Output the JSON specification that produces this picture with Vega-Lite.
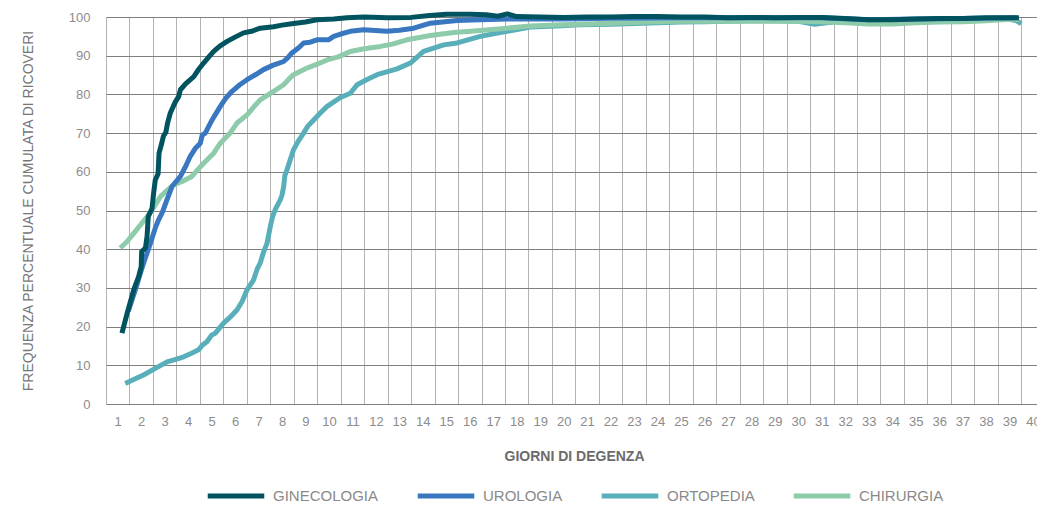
{
  "$schema": "https://vega.github.io/schema/vega-lite/v6.json",
  "autosize": {"type": "none"},
  "width": 931,
  "height": 387,
  "padding": {"left": 106, "top": 17, "right": 0, "bottom": 101},
  "background": "white",
  "config": {
    "view": {"stroke": null},
    "font": "Liberation Sans"
  },
  "datasets": {
    "curves": [
      {"s": "ORTOPEDIA", "x": 1.32, "y": 5.3}, {"s": "ORTOPEDIA", "x": 1.7, "y": 6.4}, {"s": "ORTOPEDIA", "x": 2.1, "y": 7.5}, {"s": "ORTOPEDIA", "x": 2.6, "y": 9.2}, {"s": "ORTOPEDIA", "x": 3.1, "y": 10.9}, {"s": "ORTOPEDIA", "x": 3.4, "y": 11.4}, {"s": "ORTOPEDIA", "x": 3.81, "y": 12.2}, {"s": "ORTOPEDIA", "x": 4.1, "y": 13}, {"s": "ORTOPEDIA", "x": 4.45, "y": 14}, {"s": "ORTOPEDIA", "x": 4.6, "y": 15.2}, {"s": "ORTOPEDIA", "x": 4.8, "y": 16.1}, {"s": "ORTOPEDIA", "x": 5.0, "y": 17.8}, {"s": "ORTOPEDIA", "x": 5.16, "y": 18.3}, {"s": "ORTOPEDIA", "x": 5.51, "y": 20.9}, {"s": "ORTOPEDIA", "x": 5.8, "y": 22.5}, {"s": "ORTOPEDIA", "x": 6.08, "y": 24.3}, {"s": "ORTOPEDIA", "x": 6.3, "y": 26.5}, {"s": "ORTOPEDIA", "x": 6.51, "y": 29.5}, {"s": "ORTOPEDIA", "x": 6.79, "y": 32.1}, {"s": "ORTOPEDIA", "x": 6.95, "y": 35}, {"s": "ORTOPEDIA", "x": 7.07, "y": 36.4}, {"s": "ORTOPEDIA", "x": 7.2, "y": 39}, {"s": "ORTOPEDIA", "x": 7.36, "y": 41.5}, {"s": "ORTOPEDIA", "x": 7.5, "y": 45.8}, {"s": "ORTOPEDIA", "x": 7.6, "y": 48.5}, {"s": "ORTOPEDIA", "x": 7.71, "y": 50.2}, {"s": "ORTOPEDIA", "x": 7.93, "y": 52.8}, {"s": "ORTOPEDIA", "x": 8.0, "y": 54}, {"s": "ORTOPEDIA", "x": 8.07, "y": 56.2}, {"s": "ORTOPEDIA", "x": 8.12, "y": 59}, {"s": "ORTOPEDIA", "x": 8.21, "y": 60.5}, {"s": "ORTOPEDIA", "x": 8.49, "y": 65.7}, {"s": "ORTOPEDIA", "x": 8.7, "y": 68}, {"s": "ORTOPEDIA", "x": 8.92, "y": 70}, {"s": "ORTOPEDIA", "x": 9.1, "y": 71.8}, {"s": "ORTOPEDIA", "x": 9.35, "y": 73.4}, {"s": "ORTOPEDIA", "x": 9.6, "y": 75}, {"s": "ORTOPEDIA", "x": 9.92, "y": 76.9}, {"s": "ORTOPEDIA", "x": 10.49, "y": 79.2}, {"s": "ORTOPEDIA", "x": 10.91, "y": 80.3}, {"s": "ORTOPEDIA", "x": 11.2, "y": 82.5}, {"s": "ORTOPEDIA", "x": 11.6, "y": 83.8}, {"s": "ORTOPEDIA", "x": 12.05, "y": 85.1}, {"s": "ORTOPEDIA", "x": 12.9, "y": 86.6}, {"s": "ORTOPEDIA", "x": 13.47, "y": 88.1}, {"s": "ORTOPEDIA", "x": 14.03, "y": 91.1}, {"s": "ORTOPEDIA", "x": 14.89, "y": 92.8}, {"s": "ORTOPEDIA", "x": 15.46, "y": 93.3}, {"s": "ORTOPEDIA", "x": 16.45, "y": 95}, {"s": "ORTOPEDIA", "x": 17.59, "y": 96.3}, {"s": "ORTOPEDIA", "x": 18.58, "y": 97.4}, {"s": "ORTOPEDIA", "x": 19.72, "y": 97.7}, {"s": "ORTOPEDIA", "x": 20.7, "y": 98}, {"s": "ORTOPEDIA", "x": 22, "y": 98.1}, {"s": "ORTOPEDIA", "x": 23, "y": 98.3}, {"s": "ORTOPEDIA", "x": 24, "y": 98.5}, {"s": "ORTOPEDIA", "x": 25, "y": 98.7}, {"s": "ORTOPEDIA", "x": 26, "y": 98.8}, {"s": "ORTOPEDIA", "x": 27, "y": 98.9}, {"s": "ORTOPEDIA", "x": 28, "y": 99}, {"s": "ORTOPEDIA", "x": 29, "y": 99}, {"s": "ORTOPEDIA", "x": 30, "y": 98.9}, {"s": "ORTOPEDIA", "x": 30.7, "y": 98.1}, {"s": "ORTOPEDIA", "x": 31.2, "y": 98.5}, {"s": "ORTOPEDIA", "x": 32, "y": 99}, {"s": "ORTOPEDIA", "x": 33, "y": 99}, {"s": "ORTOPEDIA", "x": 34, "y": 99}, {"s": "ORTOPEDIA", "x": 35, "y": 99}, {"s": "ORTOPEDIA", "x": 36, "y": 99}, {"s": "ORTOPEDIA", "x": 37, "y": 99.1}, {"s": "ORTOPEDIA", "x": 38, "y": 99.3}, {"s": "ORTOPEDIA", "x": 39, "y": 99.4}, {"s": "ORTOPEDIA", "x": 39.3, "y": 99}, {"s": "ORTOPEDIA", "x": 39.5, "y": 98.3},

      {"s": "CHIRURGIA", "x": 1.11, "y": 40.3}, {"s": "CHIRURGIA", "x": 1.4, "y": 42}, {"s": "CHIRURGIA", "x": 1.68, "y": 44.1}, {"s": "CHIRURGIA", "x": 2.0, "y": 46.5}, {"s": "CHIRURGIA", "x": 2.25, "y": 48.4}, {"s": "CHIRURGIA", "x": 2.5, "y": 50.5}, {"s": "CHIRURGIA", "x": 2.82, "y": 53.6}, {"s": "CHIRURGIA", "x": 3.1, "y": 55.2}, {"s": "CHIRURGIA", "x": 3.38, "y": 56.6}, {"s": "CHIRURGIA", "x": 3.74, "y": 57.5}, {"s": "CHIRURGIA", "x": 4.16, "y": 58.8}, {"s": "CHIRURGIA", "x": 4.4, "y": 60.5}, {"s": "CHIRURGIA", "x": 4.66, "y": 62.2}, {"s": "CHIRURGIA", "x": 5.09, "y": 64.8}, {"s": "CHIRURGIA", "x": 5.37, "y": 67.4}, {"s": "CHIRURGIA", "x": 5.79, "y": 70}, {"s": "CHIRURGIA", "x": 6.08, "y": 72.6}, {"s": "CHIRURGIA", "x": 6.51, "y": 74.7}, {"s": "CHIRURGIA", "x": 6.8, "y": 76.8}, {"s": "CHIRURGIA", "x": 7.07, "y": 78.6}, {"s": "CHIRURGIA", "x": 7.64, "y": 80.8}, {"s": "CHIRURGIA", "x": 8.07, "y": 82.5}, {"s": "CHIRURGIA", "x": 8.3, "y": 84}, {"s": "CHIRURGIA", "x": 8.49, "y": 85.1}, {"s": "CHIRURGIA", "x": 9.06, "y": 86.8}, {"s": "CHIRURGIA", "x": 9.5, "y": 87.8}, {"s": "CHIRURGIA", "x": 9.92, "y": 88.9}, {"s": "CHIRURGIA", "x": 10.4, "y": 89.7}, {"s": "CHIRURGIA", "x": 10.91, "y": 91.1}, {"s": "CHIRURGIA", "x": 11.5, "y": 91.8}, {"s": "CHIRURGIA", "x": 12.19, "y": 92.4}, {"s": "CHIRURGIA", "x": 12.7, "y": 93}, {"s": "CHIRURGIA", "x": 13.32, "y": 94.1}, {"s": "CHIRURGIA", "x": 14.32, "y": 95.2}, {"s": "CHIRURGIA", "x": 15.32, "y": 96}, {"s": "CHIRURGIA", "x": 16.45, "y": 96.5}, {"s": "CHIRURGIA", "x": 17.59, "y": 97.1}, {"s": "CHIRURGIA", "x": 18.58, "y": 97.7}, {"s": "CHIRURGIA", "x": 20, "y": 98}, {"s": "CHIRURGIA", "x": 21, "y": 98.2}, {"s": "CHIRURGIA", "x": 22, "y": 98.4}, {"s": "CHIRURGIA", "x": 23, "y": 98.6}, {"s": "CHIRURGIA", "x": 24, "y": 98.8}, {"s": "CHIRURGIA", "x": 25, "y": 98.9}, {"s": "CHIRURGIA", "x": 26, "y": 98.9}, {"s": "CHIRURGIA", "x": 27, "y": 98.9}, {"s": "CHIRURGIA", "x": 28, "y": 98.9}, {"s": "CHIRURGIA", "x": 29, "y": 98.9}, {"s": "CHIRURGIA", "x": 30, "y": 98.9}, {"s": "CHIRURGIA", "x": 31, "y": 98.8}, {"s": "CHIRURGIA", "x": 32, "y": 98.5}, {"s": "CHIRURGIA", "x": 33, "y": 98.2}, {"s": "CHIRURGIA", "x": 34, "y": 98.2}, {"s": "CHIRURGIA", "x": 35, "y": 98.5}, {"s": "CHIRURGIA", "x": 36, "y": 98.7}, {"s": "CHIRURGIA", "x": 37, "y": 98.8}, {"s": "CHIRURGIA", "x": 38, "y": 99}, {"s": "CHIRURGIA", "x": 39, "y": 99.4}, {"s": "CHIRURGIA", "x": 39.4, "y": 99.3},

      {"s": "UROLOGIA", "x": 1.45, "y": 24}, {"s": "UROLOGIA", "x": 1.75, "y": 29.5}, {"s": "UROLOGIA", "x": 2.1, "y": 36.4}, {"s": "UROLOGIA", "x": 2.39, "y": 41.5}, {"s": "UROLOGIA", "x": 2.6, "y": 45.5}, {"s": "UROLOGIA", "x": 2.74, "y": 47.6}, {"s": "UROLOGIA", "x": 2.9, "y": 49.5}, {"s": "UROLOGIA", "x": 3.1, "y": 52.8}, {"s": "UROLOGIA", "x": 3.31, "y": 56.2}, {"s": "UROLOGIA", "x": 3.67, "y": 58.8}, {"s": "UROLOGIA", "x": 3.9, "y": 61.5}, {"s": "UROLOGIA", "x": 4.09, "y": 64}, {"s": "UROLOGIA", "x": 4.3, "y": 66}, {"s": "UROLOGIA", "x": 4.52, "y": 67.4}, {"s": "UROLOGIA", "x": 4.6, "y": 69.5}, {"s": "UROLOGIA", "x": 4.73, "y": 70}, {"s": "UROLOGIA", "x": 5.02, "y": 73.4}, {"s": "UROLOGIA", "x": 5.37, "y": 76.9}, {"s": "UROLOGIA", "x": 5.6, "y": 79}, {"s": "UROLOGIA", "x": 5.87, "y": 80.8}, {"s": "UROLOGIA", "x": 6.2, "y": 82.5}, {"s": "UROLOGIA", "x": 6.51, "y": 83.8}, {"s": "UROLOGIA", "x": 6.9, "y": 85.2}, {"s": "UROLOGIA", "x": 7.21, "y": 86.4}, {"s": "UROLOGIA", "x": 7.6, "y": 87.5}, {"s": "UROLOGIA", "x": 8.07, "y": 88.5}, {"s": "UROLOGIA", "x": 8.25, "y": 89.5}, {"s": "UROLOGIA", "x": 8.42, "y": 90.7}, {"s": "UROLOGIA", "x": 8.7, "y": 92}, {"s": "UROLOGIA", "x": 8.92, "y": 93.3}, {"s": "UROLOGIA", "x": 9.2, "y": 93.5}, {"s": "UROLOGIA", "x": 9.49, "y": 94.1}, {"s": "UROLOGIA", "x": 9.98, "y": 94.1}, {"s": "UROLOGIA", "x": 10.2, "y": 95}, {"s": "UROLOGIA", "x": 10.5, "y": 95.6}, {"s": "UROLOGIA", "x": 10.91, "y": 96.3}, {"s": "UROLOGIA", "x": 11.48, "y": 96.7}, {"s": "UROLOGIA", "x": 12.47, "y": 96.3}, {"s": "UROLOGIA", "x": 13, "y": 96.6}, {"s": "UROLOGIA", "x": 13.61, "y": 97.1}, {"s": "UROLOGIA", "x": 14.32, "y": 98.4}, {"s": "UROLOGIA", "x": 15.46, "y": 99.1}, {"s": "UROLOGIA", "x": 16.45, "y": 99.3}, {"s": "UROLOGIA", "x": 17.59, "y": 99.5}, {"s": "UROLOGIA", "x": 18.5, "y": 99.5}, {"s": "UROLOGIA", "x": 20, "y": 99.5}, {"s": "UROLOGIA", "x": 22, "y": 99.7}, {"s": "UROLOGIA", "x": 25, "y": 99.8}, {"s": "UROLOGIA", "x": 28, "y": 99.8}, {"s": "UROLOGIA", "x": 31, "y": 99.8}, {"s": "UROLOGIA", "x": 33, "y": 99.3}, {"s": "UROLOGIA", "x": 35, "y": 99.5}, {"s": "UROLOGIA", "x": 37, "y": 99.6}, {"s": "UROLOGIA", "x": 39.3, "y": 99.8},

      {"s": "GINECOLOGIA", "x": 1.18, "y": 18.3}, {"s": "GINECOLOGIA", "x": 1.4, "y": 23.4}, {"s": "GINECOLOGIA", "x": 1.68, "y": 29.5}, {"s": "GINECOLOGIA", "x": 1.89, "y": 32.9}, {"s": "GINECOLOGIA", "x": 2.0, "y": 35.5}, {"s": "GINECOLOGIA", "x": 2.02, "y": 39.4}, {"s": "GINECOLOGIA", "x": 2.18, "y": 40.3}, {"s": "GINECOLOGIA", "x": 2.25, "y": 43.3}, {"s": "GINECOLOGIA", "x": 2.3, "y": 48.4}, {"s": "GINECOLOGIA", "x": 2.46, "y": 50.5}, {"s": "GINECOLOGIA", "x": 2.53, "y": 54.5}, {"s": "GINECOLOGIA", "x": 2.6, "y": 57.9}, {"s": "GINECOLOGIA", "x": 2.72, "y": 59.5}, {"s": "GINECOLOGIA", "x": 2.76, "y": 64.8}, {"s": "GINECOLOGIA", "x": 2.88, "y": 67.5}, {"s": "GINECOLOGIA", "x": 2.95, "y": 69.3}, {"s": "GINECOLOGIA", "x": 3.05, "y": 70.2}, {"s": "GINECOLOGIA", "x": 3.12, "y": 72.5}, {"s": "GINECOLOGIA", "x": 3.24, "y": 75.2}, {"s": "GINECOLOGIA", "x": 3.45, "y": 78}, {"s": "GINECOLOGIA", "x": 3.6, "y": 79.5}, {"s": "GINECOLOGIA", "x": 3.67, "y": 81.2}, {"s": "GINECOLOGIA", "x": 3.9, "y": 82.8}, {"s": "GINECOLOGIA", "x": 4.24, "y": 84.6}, {"s": "GINECOLOGIA", "x": 4.45, "y": 86.5}, {"s": "GINECOLOGIA", "x": 4.66, "y": 88.1}, {"s": "GINECOLOGIA", "x": 4.9, "y": 89.8}, {"s": "GINECOLOGIA", "x": 5.09, "y": 91.1}, {"s": "GINECOLOGIA", "x": 5.35, "y": 92.5}, {"s": "GINECOLOGIA", "x": 5.66, "y": 93.7}, {"s": "GINECOLOGIA", "x": 6.0, "y": 94.8}, {"s": "GINECOLOGIA", "x": 6.36, "y": 95.9}, {"s": "GINECOLOGIA", "x": 6.7, "y": 96.3}, {"s": "GINECOLOGIA", "x": 7.07, "y": 97.1}, {"s": "GINECOLOGIA", "x": 7.64, "y": 97.5}, {"s": "GINECOLOGIA", "x": 8.0, "y": 97.9}, {"s": "GINECOLOGIA", "x": 8.49, "y": 98.3}, {"s": "GINECOLOGIA", "x": 9.0, "y": 98.7}, {"s": "GINECOLOGIA", "x": 9.49, "y": 99.3}, {"s": "GINECOLOGIA", "x": 10.2, "y": 99.5}, {"s": "GINECOLOGIA", "x": 10.77, "y": 99.8}, {"s": "GINECOLOGIA", "x": 11.5, "y": 100}, {"s": "GINECOLOGIA", "x": 12.5, "y": 99.8}, {"s": "GINECOLOGIA", "x": 13.5, "y": 99.9}, {"s": "GINECOLOGIA", "x": 14.3, "y": 100.4}, {"s": "GINECOLOGIA", "x": 15, "y": 100.7}, {"s": "GINECOLOGIA", "x": 16, "y": 100.7}, {"s": "GINECOLOGIA", "x": 16.7, "y": 100.6}, {"s": "GINECOLOGIA", "x": 17.2, "y": 100.2}, {"s": "GINECOLOGIA", "x": 17.6, "y": 100.8}, {"s": "GINECOLOGIA", "x": 18, "y": 100.1}, {"s": "GINECOLOGIA", "x": 19, "y": 100}, {"s": "GINECOLOGIA", "x": 20, "y": 99.9}, {"s": "GINECOLOGIA", "x": 21, "y": 100}, {"s": "GINECOLOGIA", "x": 22, "y": 100}, {"s": "GINECOLOGIA", "x": 23, "y": 100.1}, {"s": "GINECOLOGIA", "x": 24, "y": 100.1}, {"s": "GINECOLOGIA", "x": 25, "y": 100}, {"s": "GINECOLOGIA", "x": 26, "y": 100}, {"s": "GINECOLOGIA", "x": 27, "y": 99.8}, {"s": "GINECOLOGIA", "x": 28, "y": 99.9}, {"s": "GINECOLOGIA", "x": 29, "y": 99.8}, {"s": "GINECOLOGIA", "x": 30, "y": 99.9}, {"s": "GINECOLOGIA", "x": 31, "y": 99.9}, {"s": "GINECOLOGIA", "x": 32, "y": 99.6}, {"s": "GINECOLOGIA", "x": 33, "y": 99.3}, {"s": "GINECOLOGIA", "x": 34, "y": 99.3}, {"s": "GINECOLOGIA", "x": 35, "y": 99.5}, {"s": "GINECOLOGIA", "x": 36, "y": 99.6}, {"s": "GINECOLOGIA", "x": 37, "y": 99.6}, {"s": "GINECOLOGIA", "x": 38, "y": 99.8}, {"s": "GINECOLOGIA", "x": 39.4, "y": 99.8}
    ]
  },
  "data": {"name": "curves"},
  "mark": {"type": "line", "strokeWidth": 5, "strokeCap": "butt", "strokeJoin": "round", "clip": false},
  "encoding": {
    "x": {
      "field": "x",
      "type": "quantitative",
      "scale": {"domain": [0.5, 40.17], "nice": false, "zero": false},
      "axis": {
        "values": [1,2,3,4,5,6,7,8,9,10,11,12,13,14,15,16,17,18,19,20,21,22,23,24,25,26,27,28,29,30,31,32,33,34,35,36,37,38,39,40],
        "tickOffset": -11.73,
        "labelOffset": 11.73,
        "ticks": false,
        "domain": false,
        "grid": true,
        "gridColor": "#b3b3b3",
        "gridWidth": 1,
        "gridOpacity": 1,
        "labelFontSize": 13,
        "labelColor": "#8c8c8c",
        "labelPadding": 11,
        "labelFlush": false,
        "labelOverlap": false,
        "title": "GIORNI DI DEGENZA",
        "titleFontSize": 14,
        "titleFontWeight": "bold",
        "titleColor": "#6b6b6b",
        "titleX": 468,
        "titleY": 52,
        "titleBaseline": "middle",
        "titleAlign": "center"
      }
    },
    "y": {
      "field": "y",
      "type": "quantitative",
      "scale": {"domain": [0, 100], "nice": false},
      "axis": {
        "values": [0,10,20,30,40,50,60,70,80,90,100],
        "ticks": false,
        "domain": false,
        "grid": true,
        "gridColor": "#7f7f7f",
        "gridWidth": 1,
        "gridOpacity": 1,
        "labelFontSize": 13,
        "labelColor": "#8c8c8c",
        "labelPadding": 16,
        "title": "FREQUENZA PERCENTUALE CUMULATA DI RICOVERI",
        "titleFontSize": 14,
        "titleFontWeight": "normal",
        "titleColor": "#767676",
        "titleX": -78,
        "titleY": 193.5,
        "titleAngle": -90,
        "titleAlign": "center",
        "titleBaseline": "middle"
      }
    },
    "color": {
      "field": "s",
      "type": "nominal",
      "scale": {
        "domain": ["GINECOLOGIA", "UROLOGIA", "ORTOPEDIA", "CHIRURGIA"],
        "range": ["#00535f", "#3a77c1", "#58afba", "#8dcbaa"]
      },
      "legend": {
        "orient": "none",
        "direction": "horizontal",
        "legendX": 99,
        "legendY": 448,
        "title": null,
        "symbolType": "stroke",
        "symbolSize": 3200,
        "symbolStrokeWidth": 5,
        "labelFontSize": 15,
        "labelColor": "#8a8a8a",
        "labelOffset": 6,
        "columnPadding": 28
      }
    }
  }
}
